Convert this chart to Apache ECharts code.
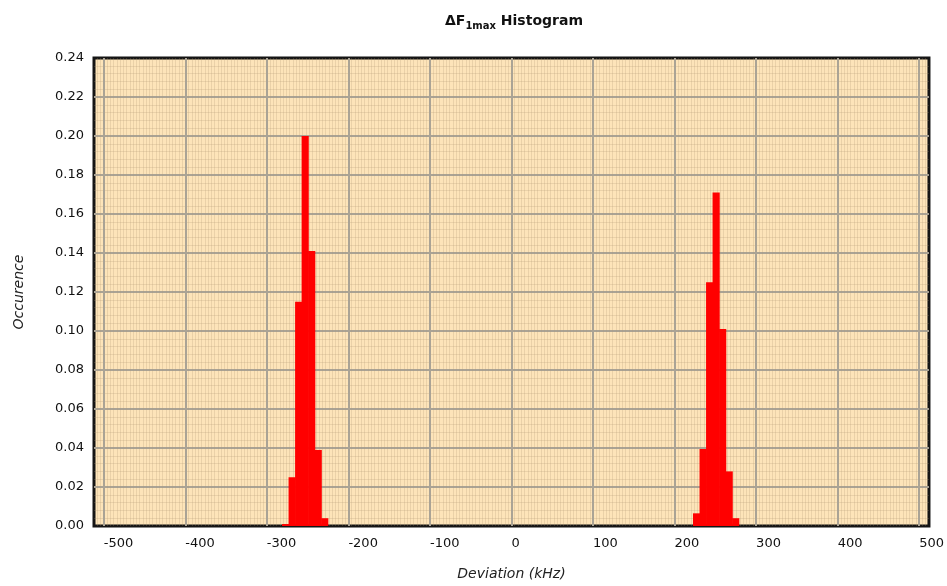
<!DOCTYPE html>
<html>
<head>
<meta charset="utf-8">
<script src="https://cdn.jsdelivr.net/npm/echarts@6/dist/echarts.min.js"></script>
<style>
html, body { margin: 0; padding: 0; background: #fff; }
#chart { width: 947px; height: 586px; }
</style>
</head>
<body>
<div id="chart"></div>
<script>
// bin centres in kHz and occurence of each bin
const leftBins = [-277, -269, -261, -253, -245, -237, -229]
const leftValues = [0.001, 0.025, 0.115, 0.200, 0.141, 0.039, 0.004]
const rightBins = [227, 235, 243, 251, 259, 267, 275]
const rightValues = [0.0065, 0.0395, 0.125, 0.171, 0.101, 0.028, 0.004]
const binWidth = 8

const xTicks = [-500, -400, -300, -200, -100, 0, 100, 200, 300, 400, 500]
const yTicks = [0, 0.02, 0.04, 0.06, 0.08, 0.10, 0.12, 0.14, 0.16, 0.18, 0.20, 0.22, 0.24]

// plot frame runs a bit past -500 / 500
const xMin = -512
const xMax = 512
const fineStep = 4

const font = 'DejaVu Sans'
const minorColor = 'rgba(175,150,115,0.24)'
const majorColor = '#aaa395'

let data = []
leftBins.forEach((b, i) => data.push([b, leftValues[i]]))
rightBins.forEach((b, i) => data.push([b, rightValues[i]]))

// colour cycle so only every 100 kHz line is a major one
const perMajor = 100 / fineStep
let majorColors = []
for (let i = 0; i < perMajor; i++) majorColors.push('rgba(0,0,0,0)')
majorColors[((xTicks[0] - xMin) / fineStep) % perMajor] = majorColor

const chart = echarts.init(document.getElementById('chart'))
const gridLeft = 94, gridRight = 15
const plotW = 947 - gridLeft - gridRight

let option = {
  animation: false,
  title: {
    text: '{a|ΔF}{b|1max}{a| Histogram}',
    left: 440,
    top: 6,
    textStyle: {
      rich: {
        a: { fontFamily: font, fontSize: 14, fontWeight: 'bold', color: '#111', lineHeight: 20 },
        b: { fontFamily: font, fontSize: 10, fontWeight: 'bold', color: '#111', verticalAlign: 'bottom', lineHeight: 14 }
      }
    }
  },
  grid: {
    left: gridLeft,
    right: gridRight,
    top: 58,
    bottom: 60,
    show: true,
    backgroundColor: '#fde4b9',
    borderColor: '#151515',
    borderWidth: 3
  },
  xAxis: [
    {
      type: 'value',
      min: xMin,
      max: xMax,
      interval: fineStep,
      position: 'bottom',
      axisLine: { show: false },
      axisTick: { show: false },
      axisLabel: { show: false },
      splitLine: { show: true, showMinLine: false, showMaxLine: false, lineStyle: { color: minorColor, width: 1 } }
    },
    {
      type: 'value',
      min: xMin,
      max: xMax,
      interval: fineStep,
      position: 'bottom',
      name: 'Deviation (kHz)',
      nameLocation: 'middle',
      nameGap: 41,
      nameTextStyle: { fontFamily: font, fontSize: 14, fontStyle: 'italic', color: '#222' },
      axisLine: { show: false },
      axisTick: { show: false },
      axisLabel: {
        margin: 11,
        align: 'left',
        fontFamily: font,
        fontSize: 13,
        color: '#111',
        formatter: v => xTicks.indexOf(Math.round(v)) >= 0 ? String(Math.round(v)) : ''
      },
      splitLine: { show: true, lineStyle: { color: majorColors, width: 2 } }
    }
  ],
  yAxis: {
    type: 'value',
    min: yTicks[0],
    max: yTicks[yTicks.length - 1],
    interval: 0.02,
    name: 'Occurence',
    nameLocation: 'middle',
    nameGap: 68,
    nameTextStyle: { fontFamily: font, fontSize: 14, fontStyle: 'italic', color: '#222' },
    axisLine: { show: false },
    axisTick: { show: false },
    axisLabel: {
      margin: 10,
      padding: [5, 0, 0, 0],
      fontFamily: font,
      fontSize: 13,
      color: '#111',
      formatter: v => v.toFixed(2)
    },
    splitLine: { show: true, showMinLine: false, showMaxLine: false, lineStyle: { color: majorColor, width: 2 } },
    minorTick: { show: false, splitNumber: 5 },
    minorSplitLine: { show: true, lineStyle: { color: minorColor, width: 1 } }
  },
  series: [
    {
      type: 'bar',
      xAxisIndex: 0,
      yAxisIndex: 0,
      data: data,
      barWidth: binWidth * plotW / (xMax - xMin) + 0.6,
      itemStyle: { color: '#ff0000' }
    }
  ]
}
chart.setOption(option)
</script>
</body>
</html>
